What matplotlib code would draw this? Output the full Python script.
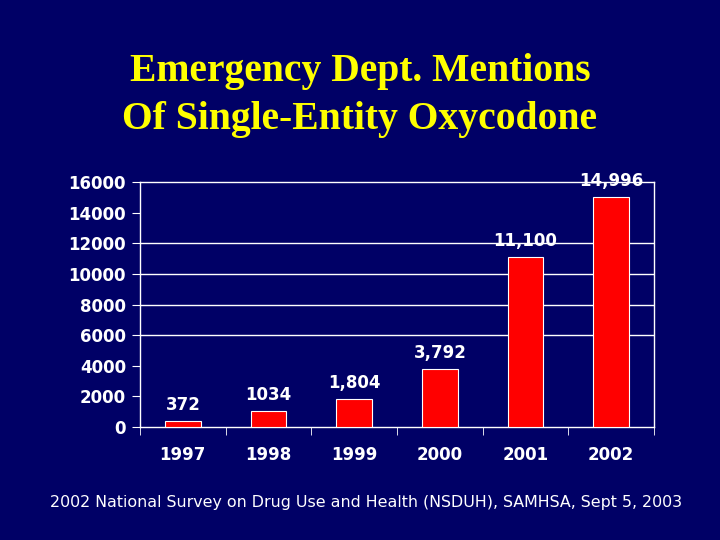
import matplotlib.pyplot as plt

years = ['1997', '1998', '1999', '2000', '2001', '2002']
mentions = [372, 1034, 1804, 3792, 11100, 14996]
labels = ['372', '1034', '1,804', '3,792', '11,100', '14,996']
yticks = [0, 2000, 4000, 6000, 8000, 10000, 12000, 14000, 16000]
grid_at = [6000, 8000, 10000, 12000]

bg = '#000066'
fig = plt.figure(figsize=(7.2, 5.4), dpi=100, facecolor=bg)
ax = fig.add_axes([140 / 720, 1 - 427 / 540, 514 / 720, 245 / 540])
ax.set_facecolor(bg)

x = range(len(years))
ax.bar(x, mentions, width=0.42, color='#ff0000', edgecolor='white', linewidth=0.8, zorder=3)
for xi, v, lab in zip(x, mentions, labels):
    ax.annotate(lab, (xi, v), xytext=(0, 5), textcoords='offset points',
                ha='center', va='bottom', color='white', fontsize=12, fontweight='bold')

for g in grid_at:
    ax.axhline(g, color='white', lw=1, zorder=1)

ax.set_xlim(-0.5, len(years) - 0.5)
ax.set_ylim(0, 16000)
ax.set_yticks(yticks)
ax.set_yticklabels([str(t) for t in yticks])
ax.set_xticks(list(x))
ax.set_xticklabels(years)
ax.set_xticks([i + 0.5 for i in range(-1, len(years))], minor=True)
ax.tick_params(axis='x', which='major', length=0, pad=14)
ax.tick_params(axis='x', which='minor', length=6, color='white', direction='out')
ax.tick_params(axis='y', length=6, color='white', pad=4)
for t in ax.get_xticklabels() + ax.get_yticklabels():
    t.set_color('white')
    t.set_fontsize(12)
    t.set_fontweight('bold')
for s in ax.spines.values():
    s.set_color('white')
    s.set_linewidth(1)

fig.text(0.5, 1 - 72 / 540, 'Emergency Dept. Mentions', ha='center', va='center',
         color='#ffff00', fontsize=28.5, fontweight='bold', family='Liberation Serif')
fig.text(0.5, 1 - 119 / 540, 'Of Single-Entity Oxycodone', ha='center', va='center',
         color='#ffff00', fontsize=28.5, fontweight='bold', family='Liberation Serif')
fig.text(366 / 720, 1 - 503 / 540,
         '2002 National Survey on Drug Use and Health (NSDUH), SAMHSA, Sept 5, 2003',
         ha='center', va='center', color='white', fontsize=11.4)

fig.savefig('out.png', dpi=100, facecolor=bg)
